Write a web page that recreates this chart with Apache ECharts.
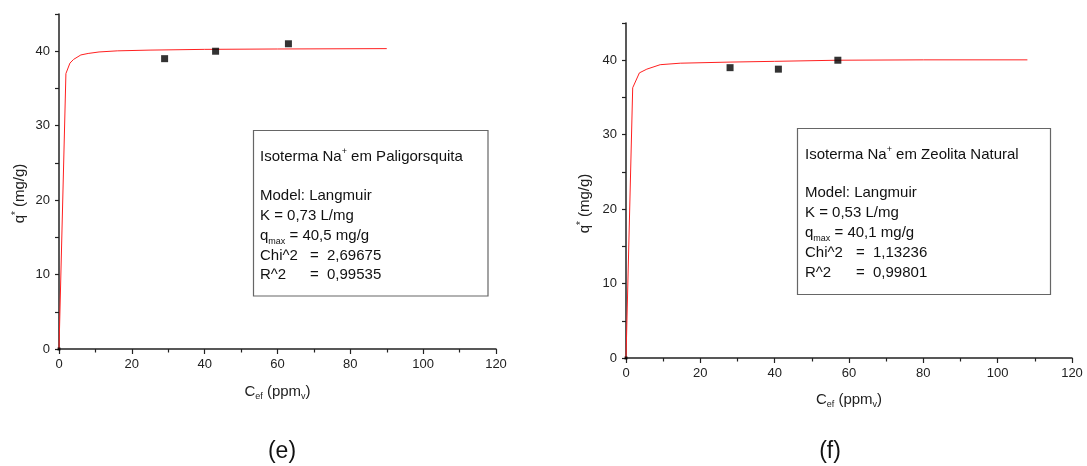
<!DOCTYPE html>
<html><head><meta charset="utf-8">
<script src="https://cdn.jsdelivr.net/npm/echarts@6/dist/echarts.min.js"></script>
<style>html,body{margin:0;padding:0;background:#fff}#c{width:1087px;height:466px}</style>
</head><body><div id="c"></div>
<script>
// ---------- data ----------
const xMin = 0, xMax = 120, xStep = 20;
const yMin = 0, yMax = 45, yStep = 5, yLabelStep = 10;

// (e) Paligorsquita
const leftPointsC = [0, 29, 43, 63];
const leftPointsQ = [0, 39, 40, 41];
const leftFitC = [0, 1.9, 3, 4, 6, 8, 11, 16, 25, 40, 60, 90];
const leftFitQ = [0, 37, 38.4, 38.9, 39.5, 39.7, 39.9, 40.05, 40.15, 40.25, 40.3, 40.35];

// (f) Zeolita Natural
const rightPointsC = [0, 28, 41, 57];
const rightPointsQ = [0, 39, 38.8, 40];
const rightFitC = [0, 1.8, 3.6, 5.6, 9.2, 14.6, 28, 40, 57, 80, 108];
const rightFitQ = [0, 36.3, 38.3, 38.8, 39.4, 39.6, 39.75, 39.85, 40.0, 40.05, 40.05];

const panelLabels = ['(e)', '(f)'];
const leftBoxLines = [
  '{t|Isoterma Na}{sup|+}{t| em Paligorsquita}',
  '{t|Model: Langmuir}',
  '{t|K = 0,73 L/mg}',
  '{t|q}{sub|max}{t| = 40,5 mg/g}',
  '{lab|Chi^2}{eq|=}{t|2,69675}',
  '{lab|R^2}{eq|=}{t|0,99535}'
];
const rightBoxLines = [
  '{t|Isoterma Na}{sup|+}{t| em Zeolita Natural}',
  '{t|Model: Langmuir}',
  '{t|K = 0,53 L/mg}',
  '{t|q}{sub|max}{t| = 40,1 mg/g}',
  '{lab|Chi^2}{eq|=}{t|1,13236}',
  '{lab|R^2}{eq|=}{t|0,99801}'
];

// ---------- helpers ----------
const FONT = '"Liberation Sans", Arial, Helvetica, sans-serif';
const AX = '#222';
const zip = (a, b) => a.map((v, i) => [v, b[i]]);

const nameRich = {
  a: { fontSize: 15, fontFamily: FONT, color: AX, lineHeight: 18 },
  s: { fontSize: 9, fontFamily: FONT, color: AX, lineHeight: 6, verticalAlign: 'bottom' },
  p: { fontSize: 10, fontFamily: FONT, color: AX, lineHeight: 10, verticalAlign: 'top' }
};

function xAxis(gi, gap) {
  return {
    type: 'value', gridIndex: gi, min: xMin, max: xMax, interval: xStep,
    name: '{a|C}{s|ef}{a| (ppm}{s|v}{a|)}', nameLocation: 'middle', nameGap: gap,
    nameTextStyle: { rich: nameRich },
    axisLine: { show: true, onZero: false, lineStyle: { color: AX, width: 1.5 } },
    axisTick: { show: true, length: 5, lineStyle: { color: AX, width: 1.2 } },
    minorTick: { show: true, splitNumber: 2, length: 3.5, lineStyle: { color: AX, width: 1.2 } },
    axisLabel: { margin: 9, fontSize: 13, fontFamily: FONT, color: AX },
    splitLine: { show: false }, minorSplitLine: { show: false }
  };
}
function yAxis(gi, gap, shift) {
  return {
    type: 'value', gridIndex: gi, min: yMin, max: yMax, interval: yStep,
    name: '{a|q}{p|*}{a| (mg/g)}', nameLocation: 'middle', nameGap: gap,
    nameTextStyle: { rich: nameRich, padding: [0, shift, 0, 0] },
    axisLine: { show: true, onZero: false, lineStyle: { color: AX, width: 1.5 } },
    axisTick: { show: true, length: 4, lineStyle: { color: AX, width: 1.2 } },
    axisLabel: {
      margin: 9, fontSize: 13, fontFamily: FONT, color: AX,
      formatter: v => (v % yLabelStep === 0 ? String(v) : '')
    },
    splitLine: { show: false }
  };
}

const boxRich = {
  t: { fontSize: 15, fontFamily: FONT, fill: '#111', lineHeight: 20 },
  sup: { fontSize: 9, fontFamily: FONT, fill: '#111', lineHeight: 10, verticalAlign: 'top' },
  sub: { fontSize: 9, fontFamily: FONT, fill: '#111', lineHeight: 6, verticalAlign: 'bottom' },
  lab: { fontSize: 15, fontFamily: FONT, fill: '#111', lineHeight: 20, width: 50 },
  eq: { fontSize: 15, fontFamily: FONT, fill: '#111', lineHeight: 20, width: 17 }
};

function legendBox(bx, by, bw, bh, tx, titleY, firstY, step, lines, labW) {
  const rich = JSON.parse(JSON.stringify(boxRich));
  rich.lab.width = labW;
  const els = [{
    type: 'rect', shape: { x: bx, y: by, width: bw, height: bh },
    style: { fill: '#fff', stroke: '#666', lineWidth: 1.2 }, z: 10
  }];
  lines.forEach((ln, i) => {
    const y = i === 0 ? titleY : firstY + (i - 1) * step;
    els.push({
      type: 'text', z: 11,
      style: { text: ln, rich: rich, x: tx, y: y, align: 'left', verticalAlign: 'middle', font: '15px ' + FONT, fill: '#111' }
    });
  });
  return els;
}

const markerSize = v => (v[0] === 0 && v[1] === 0 ? 3 : 7);

// ---------- chart ----------
const chart = echarts.init(document.getElementById('c'), null, { renderer: 'canvas' });
const option = {
  backgroundColor: '#fff',
  animation: false,
  grid: [
    { left: 59, top: 14, width: 437, height: 335 },
    { left: 626, top: 23, width: 446, height: 335 }
  ],
  xAxis: [xAxis(0, 34), xAxis(1, 33)],
  yAxis: [yAxis(0, 30, 24), yAxis(1, 32, 26)],
  series: [
    { type: 'line', xAxisIndex: 0, yAxisIndex: 0, data: zip(leftFitC, leftFitQ), symbol: 'none',
      lineStyle: { color: '#ff2020', width: 1 }, z: 3 },
    { type: 'scatter', xAxisIndex: 0, yAxisIndex: 0, data: zip(leftPointsC, leftPointsQ), symbol: 'rect',
      symbolSize: markerSize, itemStyle: { color: '#000' }, z: 4 },
    { type: 'line', xAxisIndex: 1, yAxisIndex: 1, data: zip(rightFitC, rightFitQ), symbol: 'none',
      lineStyle: { color: '#ff2020', width: 1 }, z: 3 },
    { type: 'scatter', xAxisIndex: 1, yAxisIndex: 1, data: zip(rightPointsC, rightPointsQ), symbol: 'rect',
      symbolSize: markerSize, itemStyle: { color: '#000' }, z: 4 }
  ],
  graphic: [
    ...legendBox(253.5, 130.5, 234.5, 165.5, 260, 157, 196, 19.8, leftBoxLines, 50),
    ...legendBox(797.5, 128.5, 253, 166, 805, 155, 193.3, 20, rightBoxLines, 51),
    { type: 'text', style: { text: panelLabels[0], x: 282, y: 452, align: 'center', verticalAlign: 'middle', font: '23px ' + FONT, fill: '#111' } },
    { type: 'text', style: { text: panelLabels[1], x: 830, y: 452, align: 'center', verticalAlign: 'middle', font: '23px ' + FONT, fill: '#111' } }
  ]
};
chart.setOption(option);
</script>
</body></html>
